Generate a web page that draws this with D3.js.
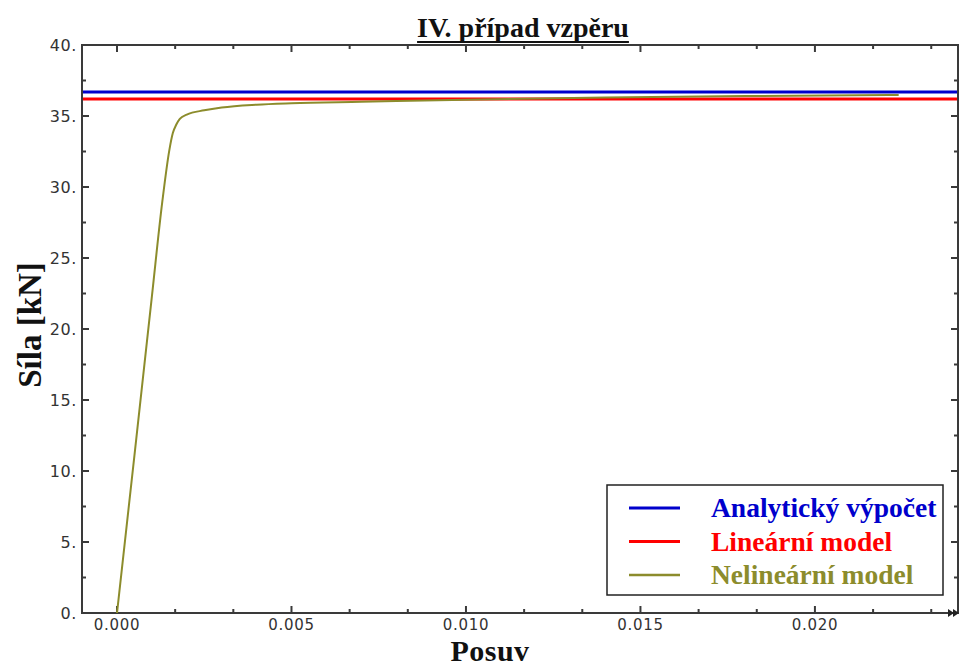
<!DOCTYPE html>
<html><head><meta charset="utf-8">
<script src="https://cdn.jsdelivr.net/npm/d3@7"></script>
<style>body{margin:0;background:#fff}svg{display:block}</style>
</head><body>
<svg id="c" width="962" height="668"></svg>
<script>
const title = "IV. případ vzpěru";
const xLabel = "Posuv";
const yLabel = "Síla [kN]";
const seriesNames = ["Analytický výpočet", "Lineární model", "Nelineární model"];
const seriesColors = ["#0000cc", "#ff0000", "#8c8c2c"];
const analyticValue = 36.69;
const linearValue = 36.2;
const nonlinX = [0, 0.0005, 0.001, 0.0013, 0.0015, 0.0016, 0.0017, 0.0018, 0.002, 0.0025, 0.003, 0.004, 0.005, 0.007, 0.010, 0.014, 0.018, 0.0224];
const nonlinY = [0, 11.1, 22.3, 29.0, 32.6, 33.8, 34.4, 34.8, 35.1, 35.4, 35.6, 35.8, 35.9, 36.0, 36.15, 36.3, 36.4, 36.48];
const xTicks = [0, 0.005, 0.010, 0.015, 0.020];
const yTicks = [0, 5, 10, 15, 20, 25, 30, 35, 40];

const svg = d3.select("#c");
const L = 82, R = 958, T = 45, B = 613;
const x = d3.scaleLinear().domain([-0.001003, 0.0241]).range([L, R]);
const y = d3.scaleLinear().domain([0, 40]).range([B, T]);
const axCol = "#3a3a3a";

const xMinorAll = [];
for (let i = 0; i <= 14; i++) xMinorAll.push(i*0.005/3);
const yMinor = d3.range(0, 40.01, 2.5);

const g = svg.append("g");
xMinorAll.forEach(v => {
  const isMajor = xTicks.some(t => Math.abs(t - v) < 1e-9);
  const len = isMajor ? 7 : 4;
  g.append("line").attr("x1", x(v)).attr("x2", x(v)).attr("y1", B).attr("y2", B - len).attr("stroke", axCol).attr("stroke-width", 2);
  g.append("line").attr("x1", x(v)).attr("x2", x(v)).attr("y1", T).attr("y2", T + len).attr("stroke", axCol).attr("stroke-width", 2);
});
yMinor.forEach(v => {
  const isMajor = yTicks.includes(v);
  const len = isMajor ? 7 : 4;
  g.append("line").attr("x1", L).attr("x2", L + len).attr("y1", y(v)).attr("y2", y(v)).attr("stroke", axCol).attr("stroke-width", 2);
  g.append("line").attr("x1", R).attr("x2", R - len).attr("y1", y(v)).attr("y2", y(v)).attr("stroke", axCol).attr("stroke-width", 2);
});

g.append("rect").attr("x", L).attr("y", T).attr("width", R - L).attr("height", B - T)
  .attr("fill", "none").attr("stroke", axCol).attr("stroke-width", 2);
g.append("path").attr("d", `M${R-10},${B-4} L${R-4},${B} L${R-10},${B+4} Z M${R-5},${B-4} L${R+1},${B} L${R-5},${B+4} Z`).attr("fill", "#222");

g.selectAll(".xt").data(xTicks).enter().append("text")
  .attr("x", d => x(d)).attr("y", B + 16.5).attr("text-anchor", "middle")
  .attr("font-family", "DejaVu Sans, sans-serif").attr("font-size", 15).attr("letter-spacing", 0.7).attr("fill", "#333")
  .text(d => d3.format(".3f")(d));
g.selectAll(".yt").data(yTicks).enter().append("text")
  .attr("x", L - 5).attr("y", d => y(d) + 6).attr("text-anchor", "end")
  .attr("font-family", "DejaVu Sans, sans-serif").attr("font-size", 16).attr("letter-spacing", 0.6).attr("fill", "#333")
  .text(d => d + ".");

svg.append("line").attr("x1", L + 1).attr("x2", R - 1).attr("y1", y(analyticValue)).attr("y2", y(analyticValue))
  .attr("stroke", seriesColors[0]).attr("stroke-width", 3);
svg.append("line").attr("x1", L + 1).attr("x2", R - 1).attr("y1", y(linearValue)).attr("y2", y(linearValue))
  .attr("stroke", seriesColors[1]).attr("stroke-width", 3);
const pts = nonlinX.map((v, i) => [v, nonlinY[i]]);
svg.append("path").datum(pts)
  .attr("d", d3.line().x(d => x(d[0])).y(d => y(d[1])).curve(d3.curveMonotoneX))
  .attr("fill", "none").attr("stroke", seriesColors[2]).attr("stroke-width", 2);

const tt = svg.append("text").attr("x", 523).attr("y", 37).attr("text-anchor", "middle")
  .attr("font-family", "Liberation Serif, serif").attr("font-weight", "bold").attr("font-size", 28)
  .attr("fill", "#111").text(title);
const bb = tt.node().getBBox();
svg.append("line").attr("x1", bb.x).attr("x2", bb.x + bb.width).attr("y1", 42).attr("y2", 42).attr("stroke", "#111").attr("stroke-width", 2);

svg.append("text").attr("x", 490).attr("y", 661).attr("text-anchor", "middle")
  .attr("font-family", "Liberation Serif, serif").attr("font-weight", "bold").attr("font-size", 30)
  .attr("letter-spacing", 0.5).attr("fill", "#111").text(xLabel);
svg.append("text").attr("transform", "translate(41,325) rotate(-90)").attr("text-anchor", "middle")
  .attr("font-family", "Liberation Serif, serif").attr("font-weight", "bold").attr("font-size", 33)
  .attr("fill", "#111").text(yLabel);

const lg = svg.append("g");
lg.append("rect").attr("x", 607).attr("y", 485).attr("width", 336).attr("height", 110)
  .attr("fill", "#fff").attr("stroke", "#222").attr("stroke-width", 1.5);
seriesNames.forEach((n, i) => {
  const yy = 508 + i * 33.5;
  lg.append("line").attr("x1", 629).attr("x2", 680).attr("y1", yy).attr("y2", yy)
    .attr("stroke", seriesColors[i]).attr("stroke-width", i === 2 ? 2.5 : 3);
  lg.append("text").attr("x", 711).attr("y", yy + 9)
    .attr("font-family", "Liberation Serif, serif").attr("font-weight", "bold").attr("font-size", 27.5)
    .attr("fill", seriesColors[i]).text(n);
});
</script>
</body></html>
